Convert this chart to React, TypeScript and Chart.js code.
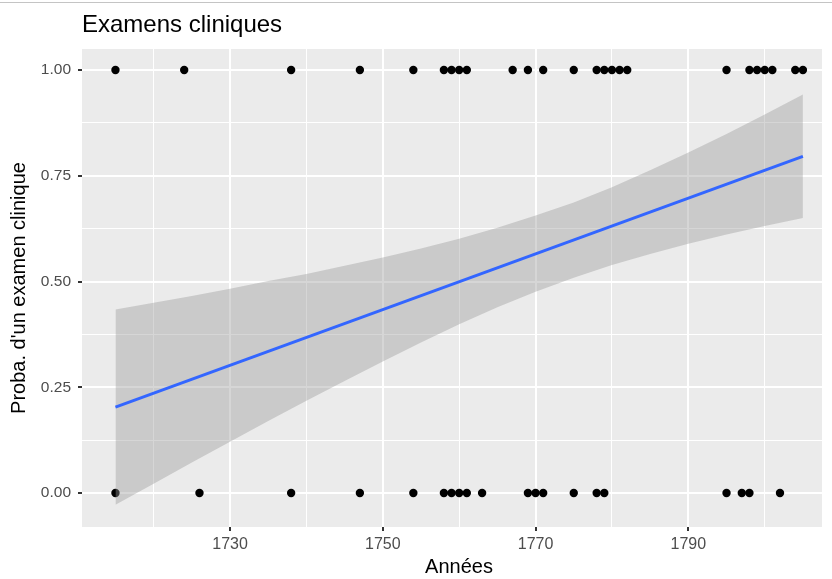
import { useEffect, useRef } from "react";
import { Chart, registerables } from "chart.js";

Chart.register(...registerables);

// Years with a clinical exam (y = 1)
const yearsExamen = [
  1715, 1724, 1738, 1747, 1754, 1758, 1759, 1760, 1761, 1767, 1769, 1771, 1775,
  1778, 1779, 1780, 1781, 1782, 1795, 1798, 1799, 1800, 1801, 1804, 1805,
];
// Years without a clinical exam (y = 0)
const yearsSansExamen = [
  1715, 1726, 1738, 1747, 1754, 1758, 1759, 1760, 1761, 1763, 1769, 1770, 1771,
  1775, 1778, 1779, 1795, 1797, 1798, 1802,
];

// Linear fit (geom_smooth, method = "lm")
const fitYears = [1715, 1805];
const fitValues = [0.203, 0.796];

// Confidence band
const bandYears = [
  1715, 1720, 1725, 1730, 1735, 1740, 1745, 1750, 1755, 1760, 1765, 1770, 1775,
  1780, 1785, 1790, 1795, 1800, 1805,
];
const bandUpper = [
  0.434, 0.45, 0.466, 0.483, 0.501, 0.518, 0.537, 0.557, 0.578, 0.601, 0.627,
  0.656, 0.687, 0.723, 0.763, 0.805, 0.849, 0.895, 0.942,
];
const bandLower = [
  -0.028, 0.022, 0.072, 0.121, 0.17, 0.218, 0.265, 0.311, 0.356, 0.399, 0.439,
  0.476, 0.509, 0.539, 0.565, 0.589, 0.611, 0.631, 0.65,
];

const xMajorTicks = [1730, 1750, 1770, 1790];
const xMinorTicks = [1720, 1740, 1760, 1780, 1800];
const yMajorTicks = [0, 0.25, 0.5, 0.75, 1];
const yMinorTicks = [0.125, 0.375, 0.625, 0.875];

const titleText = "Examens cliniques";
const xTitleText = "Années";
const yTitleText = "Proba. d'un examen clinique";

const FONT = "'Liberation Sans', Arial, sans-serif";

const panelPlugin = {
  id: "ggpanel",
  beforeDraw(chart: any) {
    const { ctx, chartArea: a } = chart;
    ctx.save();
    ctx.fillStyle = "#ffffff";
    ctx.fillRect(0, 0, chart.width, chart.height);
    ctx.strokeStyle = "#c4c4c4";
    ctx.lineWidth = 1;
    ctx.beginPath();
    ctx.moveTo(0, 2.5);
    ctx.lineTo(chart.width, 2.5);
    ctx.stroke();
    ctx.fillStyle = "#EBEBEB";
    ctx.fillRect(a.left, a.top, a.right - a.left, a.bottom - a.top);
    ctx.restore();
  },
  afterDraw(chart: any) {
    const { ctx, chartArea: a } = chart;
    ctx.save();
    ctx.fillStyle = "#000000";
    ctx.textBaseline = "alphabetic";
    ctx.textAlign = "left";
    ctx.font = `24px ${FONT}`;
    ctx.fillText(titleText, a.left, 31.5);
    ctx.font = `20px ${FONT}`;
    ctx.textAlign = "center";
    ctx.textBaseline = "middle";
    ctx.fillText(xTitleText, 459, 567);
    ctx.translate(19.5, (a.top + a.bottom) / 2);
    ctx.rotate(-Math.PI / 2);
    ctx.fillText(yTitleText, 0, 0);
    ctx.restore();
  },
};

export default function App() {
  const ref = useRef<HTMLCanvasElement | null>(null);

  useEffect(() => {
    if (!ref.current) return;
    const pts = (xs: number[], ys: number[]) => xs.map((x, i) => ({ x, y: ys[i] }));
    const chart = new Chart(ref.current, {
      type: "line",
      data: {
        datasets: [
          {
            label: "upper",
            data: pts(bandYears, bandUpper),
            borderWidth: 0,
            borderColor: "rgba(0,0,0,0)",
            backgroundColor: "rgba(153,153,153,0.4)",
            pointRadius: 0,
            fill: "+1",
            order: 2,
          },
          {
            label: "lower",
            data: pts(bandYears, bandLower),
            borderWidth: 0,
            borderColor: "rgba(0,0,0,0)",
            pointRadius: 0,
            fill: false,
            order: 2,
          },
          {
            label: "fit",
            data: pts(fitYears, fitValues),
            borderColor: "#3366FF",
            borderWidth: 3,
            pointRadius: 0,
            fill: false,
            order: 1,
          },
          {
            label: "exam",
            data: yearsExamen.map((x) => ({ x, y: 1 })),
            showLine: false,
            pointRadius: 4.2,
            pointBackgroundColor: "#000000",
            pointBorderWidth: 0,
            order: 3,
          },
          {
            label: "no exam",
            data: yearsSansExamen.map((x) => ({ x, y: 0 })),
            showLine: false,
            pointRadius: 4.2,
            pointBackgroundColor: "#000000",
            pointBorderWidth: 0,
            order: 3,
          },
        ],
      },
      options: {
        responsive: false,
        animation: false,
        devicePixelRatio: 1,
        events: [],
        layout: { padding: { top: 49, right: 10, bottom: 0, left: 0 } },
        plugins: {
          legend: { display: false },
          tooltip: { enabled: false },
          title: { display: false },
        },
        scales: {
          x: {
            type: "linear",
            min: 1710.62,
            max: 1807.5,
            border: { display: false },
            afterBuildTicks: (scale: any) => {
              scale.ticks = [...xMinorTicks, ...xMajorTicks]
                .sort((p, q) => p - q)
                .map((v) => ({ value: v }));
            },
            afterFit: (scale: any) => {
              scale.height = 52;
            },
            grid: {
              color: "#ffffff",
              lineWidth: (c: any) => (xMajorTicks.includes(c.tick?.value) ? 2 : 1),
              tickColor: (c: any) =>
                xMajorTicks.includes(c.tick?.value) ? "#333333" : "rgba(0,0,0,0)",
              tickWidth: 2,
              tickLength: 4,
              drawTicks: true,
            },
            ticks: {
              autoSkip: false,
              maxRotation: 0,
              padding: 4,
              color: "#4D4D4D",
              font: { family: FONT, size: 16 },
              callback: (v: any) => (xMajorTicks.includes(Number(v)) ? String(v) : ""),
            },
          },
          y: {
            type: "linear",
            min: -0.0804,
            max: 1.0497,
            border: { display: false },
            afterBuildTicks: (scale: any) => {
              scale.ticks = [...yMinorTicks, ...yMajorTicks]
                .sort((p, q) => p - q)
                .map((v) => ({ value: v }));
            },
            afterFit: (scale: any) => {
              scale.width = 82;
            },
            grid: {
              color: "#ffffff",
              lineWidth: (c: any) => (yMajorTicks.includes(c.tick?.value) ? 2 : 1),
              tickColor: (c: any) =>
                yMajorTicks.includes(c.tick?.value) ? "#333333" : "rgba(0,0,0,0)",
              tickWidth: 2,
              tickLength: 4,
              drawTicks: true,
            },
            ticks: {
              autoSkip: false,
              padding: 7,
              color: "#4D4D4D",
              font: { family: FONT, size: 15.5 },
              callback: (v: any) =>
                yMajorTicks.includes(Number(v)) ? Number(v).toFixed(2) : "",
            },
          },
        },
      },
      plugins: [panelPlugin],
    });
    return () => chart.destroy();
  }, []);

  return (
    <div style={{ position: "absolute", left: 0, top: 0, width: 832, height: 579 }}>
      <canvas ref={ref} width={832} height={579} />
    </div>
  );
}
